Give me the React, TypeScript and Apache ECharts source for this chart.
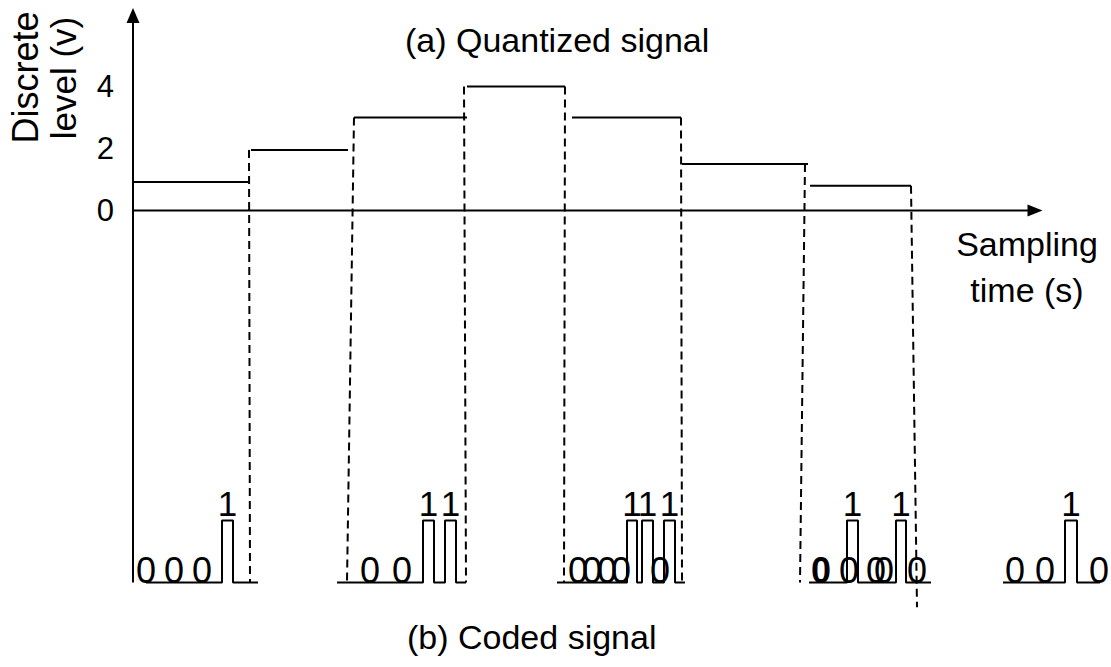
import React, { useEffect, useRef } from "react";
import * as echarts from "echarts";

const FONT = "'Liberation Sans', Arial, Helvetica, sans-serif";
const INK = "#000";

// (a) Quantized signal: one flat step per sample
const stepStart = [0, 1.18, 2.21, 3.34, 4.39, 5.49, 6.77];
const stepEnd = [1.17, 2.15, 3.34, 4.32, 5.48, 6.75, 7.78];
const stepLevel = [0.92, 1.95, 3.0, 4.0, 3.0, 1.5, 0.8];

// dashed projection lines from the quantized steps down to the code words
const dashTopX = [1.16, 2.21, 3.31, 4.32, 5.48, 6.72, 7.78];
const dashTopY = [1.95, 3.0, 4.0, 4.0, 3.0, 1.5, 0.8];
const dashBottomX = [1.17, 2.14, 3.33, 4.31, 5.49, 6.67, 7.84];
const dashBottomY = [-12, -12, -12, -12, -12, -12, -12.8];

// (b) Coded signal
const codeLow = -12;
const codeHigh = -10;
const groupStart = [0.13, 2.04, 4.24, 6.76, 8.7];
const groupEnd = [1.25, 3.33, 5.52, 7.98, 9.67];
const pulseStart = [[0.89], [2.9, 3.12], [4.94, 5.09, 5.31], [7.14, 7.63], [9.32]];
const pulseEnd = [[1.0], [3.01, 3.23], [5.04, 5.2, 5.42], [7.25, 7.73], [9.44]];
const zeroX = [0.13, 0.41, 0.69, 2.37, 2.69, 4.45, 4.59, 4.74, 4.88, 5.27, 6.88, 7.16, 7.43, 7.51, 7.84, 8.82, 9.12, 9.66];
const zeroBold = [6.88];
const zeroY = -11.6;
const oneY = -9.45;

// axes
const yTicks = [0, 2, 4];
const yAxisLine = [[0, -12], [0, 6.29]];
const xAxisLine = [[-0.15, 0], [9.02, 0]];
const yArrow = [[0, 6.29]];
const xArrow = [[9.02, 0]];

function wave(g: number): number[][] {
  const pts: number[][] = [[groupStart[g], codeLow]];
  pulseStart[g].forEach((s, i) => {
    const e = pulseEnd[g][i];
    pts.push([s, codeLow], [s, codeHigh], [e, codeHigh], [e, codeLow]);
  });
  pts.push([groupEnd[g], codeLow]);
  return pts;
}

const solid = { color: INK, width: 2 };
const lineBase = { type: "line", symbol: "none", silent: true, clip: false };
const labelBase = {
  show: true, position: "inside", color: INK, fontFamily: FONT, opacity: 1,
  textBorderWidth: 0, textBorderColor: "transparent", textShadowBlur: 0,
};

function buildOption(): any {
  const series: any[] = [];
  // axis lines
  series.push({ ...lineBase, data: yAxisLine, lineStyle: solid });
  series.push({ ...lineBase, data: xAxisLine, lineStyle: solid });
  series.push({
    type: "scatter", data: yArrow, symbol: "triangle", symbolSize: [13, 15], clip: false,
    itemStyle: { color: INK, opacity: 1 }, silent: true,
  });
  series.push({
    type: "scatter", data: xArrow, symbol: "triangle", symbolSize: [12, 15], symbolRotate: -90, clip: false,
    itemStyle: { color: INK, opacity: 1 }, silent: true,
  });
  // quantized steps
  stepLevel.forEach((lv, i) => {
    series.push({ ...lineBase, lineStyle: solid, data: [[stepStart[i], lv], [stepEnd[i], lv]] });
  });
  // dashed projections
  dashTopX.forEach((x, i) => {
    series.push({
      ...lineBase,
      lineStyle: { color: INK, width: 2, type: [8, 5] },
      data: [[x, dashTopY[i]], [dashBottomX[i], dashBottomY[i]]],
    });
  });
  // coded waveform
  groupStart.forEach((_, g) => {
    series.push({ ...lineBase, lineStyle: solid, data: wave(g) });
  });
  // "0" labels
  series.push({
    type: "scatter", silent: true, symbolSize: 0, clip: false, itemStyle: { color: INK, opacity: 1 },
    label: { ...labelBase, formatter: "0", fontSize: 36 },
    data: zeroX.map((x) => ({
      value: [x, zeroY],
      label: zeroBold.includes(x) ? { fontWeight: "bold" } : undefined,
    })),
  });
  // "1" labels above pulses
  const ones: number[][] = [];
  pulseStart.forEach((arr, g) => arr.forEach((s, i) => ones.push([(s + pulseEnd[g][i]) / 2, oneY])));
  series.push({
    type: "scatter", silent: true, symbolSize: 0, clip: false, itemStyle: { color: INK, opacity: 1 },
    label: { ...labelBase, formatter: "1", fontSize: 35 },
    data: ones,
  });

  const txt = (text: string, x: number, y: number, align = "left", rotation = 0, size = 34) => ({
    type: "text", x, y, rotation, silent: true,
    style: { text, fontSize: size, fontFamily: FONT, fill: INK, align, verticalAlign: "middle" },
  });

  return {
    animation: false,
    backgroundColor: "#fff",
    grid: { left: 133, right: 0, top: 9, bottom: 22.5, outerBoundsMode: "none" },
    xAxis: { type: "value", min: 0, max: 9.78, show: false },
    yAxis: {
      type: "value", min: -14, max: 6.5, interval: 2,
      axisLine: { show: false },
      axisTick: { show: false },
      splitLine: { show: false },
      axisLabel: {
        margin: 19, fontSize: 31, color: INK, fontFamily: FONT,
        formatter: (v: number) => (yTicks.includes(v) ? String(v) : ""),
      },
    },
    series,
    graphic: [
      txt("(a) Quantized signal", 405, 40),
      txt("(b) Coded signal", 407, 637),
      txt("Sampling", 1027, 244, "center"),
      txt("time (s)", 1027, 290, "center"),
      txt("Discrete", 25, 77.5, "center", Math.PI / 2, 36),
      txt("level (v)", 63, 78, "center", Math.PI / 2, 35),
    ],
  };
}

export default function App() {
  const ref = useRef<HTMLDivElement>(null);
  useEffect(() => {
    document.body.style.margin = "0";
    const chart = echarts.init(ref.current!, null, { renderer: "svg" });
    chart.setOption(buildOption());
    return () => chart.dispose();
  }, []);
  return (
    <div
      ref={ref}
      style={{ position: "absolute", left: 0, top: 0, width: 1111, height: 667, background: "#fff" }}
    />
  );
}
